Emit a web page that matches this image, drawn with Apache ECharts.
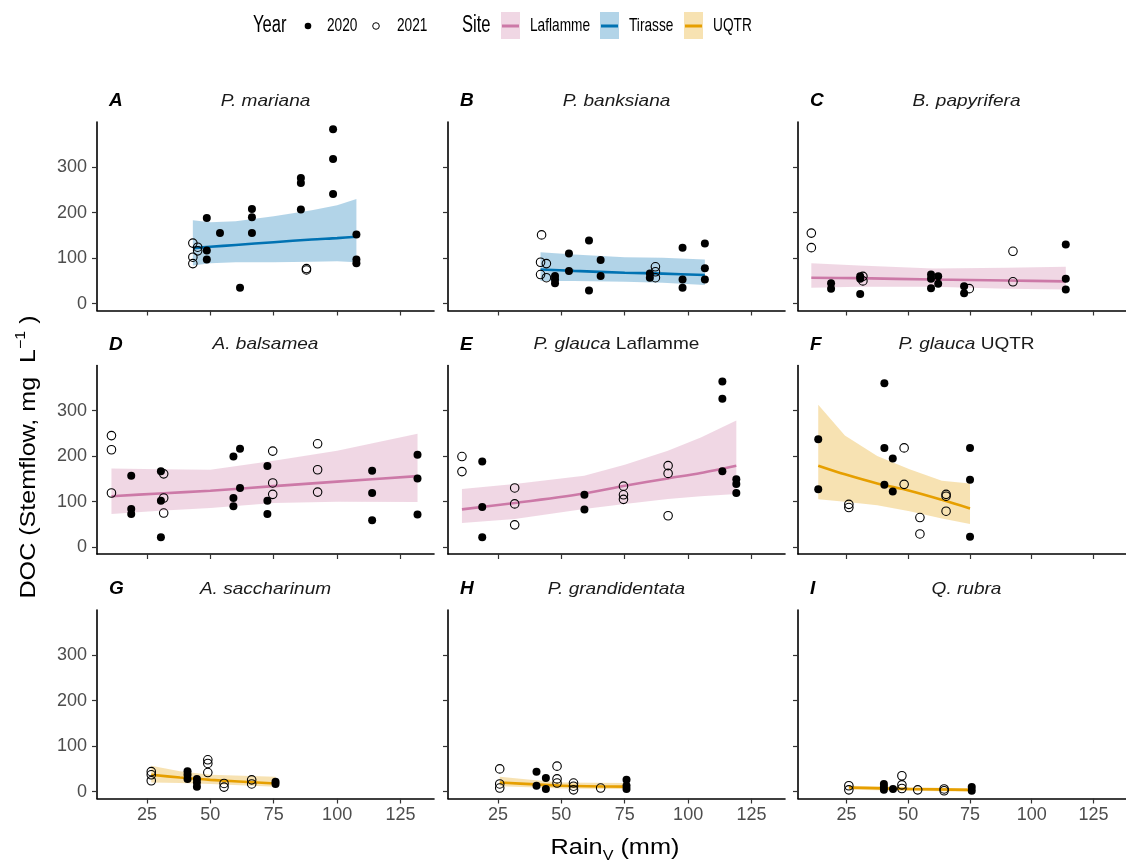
<!DOCTYPE html>
<html>
<head>
<meta charset="utf-8">
<style>
html, body { margin: 0; padding: 0; background: #fff; }
#chart { width: 1126px; height: 861px; }
</style>
<script src="https://cdn.jsdelivr.net/npm/echarts@6/dist/echarts.min.js"></script>
</head>
<body>
<div id="chart"></div>
<script>
// ============================
// Data
// ============================
var xTicks = [25, 50, 75, 100, 125];
var yTicks = [0, 100, 200, 300];

var panelLetters = ["A", "B", "C", "D", "E", "F", "G", "H", "I"];
var panelTitles = ["{i|P. mariana}", "{i|P. banksiana}", "{i|B. papyrifera}",
    "{i|A. balsamea}", "{i|P. glauca} Laflamme", "{i|P. glauca} UQTR",
    "{i|A. saccharinum}", "{i|P. grandidentata}", "{i|Q. rubra}"];
var panelSites = ["Tirasse", "Tirasse", "Laflamme", "Laflamme", "Laflamme", "UQTR", "UQTR", "UQTR", "UQTR"];

var siteNames = ["Laflamme", "Tirasse", "UQTR"];
var siteLine = ["#CC79A7", "#0072B2", "#E69F00"];
var siteBand = ["rgba(204,121,167,0.3)", "rgba(0,114,178,0.3)", "rgba(230,159,0,0.3)"];

// [rain, DOC]
var a2020 = [[48.6,188],[48.6,117],[48.6,97],[53.8,155],[61.7,35],[66.4,208],[66.4,190],[66.4,155],[85.7,276],[85.7,265],[85.7,207],[98.4,383],[98.4,318],[98.4,241],[107.6,152],[107.6,97],[107.6,89]];
var a2021 = [[43.1,133],[43.1,102],[43.1,88],[45,124],[45,116],[87.9,77],[87.9,74]];
var b2020 = [[47.5,61],[47.5,53],[47.5,45],[53,110],[53,72],[60.9,139],[60.9,29],[65.5,96],[65.5,61],[84.9,66],[84.9,57],[97.8,123],[97.8,53],[97.8,35],[106.6,132],[106.6,78],[106.6,53]];
var b2021 = [[42.2,151],[41.8,91],[44.1,88],[41.8,64],[44.1,57],[87.1,81],[87.1,70],[87.1,57]];
var c2020 = [[18.7,45],[18.7,33],[30.5,60],[30.5,55],[30.5,21],[59.2,64],[59.2,55],[59.2,34],[62.1,60],[62.1,44],[72.6,38],[72.6,23],[113.8,130],[113.8,55],[113.8,31]];
var c2021 = [[10.7,155],[10.7,123],[31.6,60],[31.6,50],[74.7,33],[92.4,115],[92.4,48]];
var d2020 = [[18.8,157],[18.8,84],[18.8,73],[30.5,167],[30.5,102],[30.5,22],[59.1,199],[61.7,216],[61.7,130],[59.1,108],[59.1,90],[72.5,178],[72.5,102],[72.5,73],[113.8,168],[113.8,119],[113.8,59],[131.7,203],[131.7,151],[131.7,72]];
var d2021 = [[11,245],[11,214],[11,119],[31.6,161],[31.6,108],[31.6,75],[74.6,211],[74.6,141],[74.6,116],[92.3,227],[92.3,170],[92.3,121]];
var e2020 = [[18.8,188],[18.8,88],[18.8,22],[59.1,115],[59.1,83],[113.5,364],[113.5,326],[113.5,167],[119,149],[119,139],[119,119]];
var e2021 = [[10.8,199],[10.8,166],[31.6,130],[31.6,95],[31.6,49],[74.5,134],[74.5,115],[74.5,105],[92.1,179],[92.1,162],[92.1,69]];
var f2020 = [[13.5,237],[13.5,127],[40.3,360],[40.3,218],[40.3,137],[43.7,195],[43.7,122],[75,218],[75,148],[75,23]];
var f2021 = [[25.9,94],[25.9,87],[48.3,218],[48.3,138],[54.7,65],[54.7,29],[65.3,116],[65.3,112],[65.3,79]];
var g2020 = [[41,45],[41,37],[41,28],[44.7,28],[44.7,20],[44.7,11],[75.7,22],[75.7,17]];
var g2021 = [[26.7,44],[26.7,37],[26.7,24],[49,70],[49,62],[49,42],[55.4,18],[55.4,10],[66.3,26],[66.3,17]];
var h2020 = [[40.2,44],[40.2,13],[43.9,30],[43.9,6],[75.7,26],[75.7,13],[75.7,6]];
var h2021 = [[25.7,50],[25.7,17],[25.7,8],[48.3,56],[48.3,28],[48.3,19],[54.8,19],[54.8,12],[54.8,4],[65.5,8]];
var i2020 = [[40.1,17],[40.1,10],[40.1,4],[43.8,6],[75.7,10],[75.7,2]];
var i2021 = [[25.9,13],[25.9,4],[47.4,35],[47.4,15],[47.4,7],[53.8,4],[64.5,6],[64.5,2]];

// fitted curve: [rain, fit, lower, upper]
var aFit = [[43.1,122,84,183],[50,125,89,179],[60,129,91,181],[75,135,91,192],[90,141,92,205],[100,144,93,216],[107.6,147,91,230]];
var bFit = [[41.8,75,50,113],[55,72,50,108],[75,68,48,102],[90,66,46,101],[106.6,63,41,97]];
var cFit = [[10.7,57,35,89],[30,56,37,84],[60,53,37,77],[90,51,33,79],[113.8,49,31,81]];
var dFit = [[11,112,73,173],[30,118,80,171],[50,124,86,170],[75,134,97,190],[100,144,100,212],[131.7,156,99,249]];
var eFit = [[10.8,83,53,128],[31.6,97,62,139],[59,118,84,157],[75,135,95,181],[92,151,106,212],[105,163,112,241],[119,179,117,278]];
var fFit = [[13.5,179,105,313],[24.3,160,100,245],[37.4,140,92,200],[50.5,124,79,171],[63.6,104,63,146],[75,85,51,140]];
var gFit = [[26.7,37,20,57],[38,31,19,45],[50,26,17,37],[75.7,18,11,33]];
var hFit = [[25.7,20,12,33],[40,16,9,25],[50,13,7,20],[75.7,11,6,19]];
var iFit = [[25.9,9,4,13],[50,6,2,10],[75.7,4,0,7]];

var pts2020 = [a2020, b2020, c2020, d2020, e2020, f2020, g2020, h2020, i2020];
var pts2021 = [a2021, b2021, c2021, d2021, e2021, f2021, g2021, h2021, i2021];
var fits = [aFit, bFit, cFit, dFit, eFit, fFit, gFit, hFit, iFit];

// ============================
// Layout
// ============================
var FONT = "Liberation Sans, Arial, sans-serif";
var colLeft = [97, 448, 798];
var rowTop = [122, 365.5, 610];
var W = 337, H = 188.5;

var chart = echarts.init(document.getElementById("chart"));

function bandRenderer(fit, fill) {
    return function (params, api) {
        if (params.dataIndex !== 0) return;
        var upper = fit.map(function (d) { return api.coord([d[0], d[3]]); });
        var lower = fit.slice().reverse().map(function (d) { return api.coord([d[0], d[2]]); });
        return {
            type: "polygon",
            shape: { points: upper.concat(lower) },
            style: { fill: fill }
        };
    };
}

var grids = [], xAxes = [], yAxes = [], series = [], graphics = [];

for (var p = 0; p < 9; p++) {
    var row = Math.floor(p / 3), col = p % 3;
    var gLeft = colLeft[col], gTop = rowTop[row];
    var s = siteNames.indexOf(panelSites[p]);

    grids.push({ left: gLeft, top: gTop, width: W, height: H });

    xAxes.push({
        type: "value", gridIndex: p, min: 5.3, max: 138.2,
        axisLine: { show: true, onZero: false, lineStyle: { color: "#000", width: 1.6 } },
        axisTick: { show: true, length: 5, customValues: xTicks, lineStyle: { color: "#333", width: 1.2 } },
        axisLabel: { show: row === 2, customValues: xTicks, color: "#4d4d4d", fontSize: 18, fontFamily: FONT, margin: 8 },
        splitLine: { show: false }
    });
    yAxes.push({
        type: "value", gridIndex: p, min: -15, max: 399,
        axisLine: { show: true, onZero: false, lineStyle: { color: "#000", width: 1.6 } },
        axisTick: { show: true, length: 5, customValues: yTicks, lineStyle: { color: "#333", width: 1.2 } },
        axisLabel: { show: col === 0, customValues: yTicks, color: "#4d4d4d", fontSize: 18, fontFamily: FONT, margin: 10 },
        splitLine: { show: false }
    });

    series.push({
        type: "custom", xAxisIndex: p, yAxisIndex: p, silent: true,
        renderItem: bandRenderer(fits[p], siteBand[s]),
        data: fits[p], z: 1
    });
    series.push({
        type: "line", xAxisIndex: p, yAxisIndex: p, silent: true,
        data: fits[p].map(function (d) { return [d[0], d[1]]; }),
        smooth: 0.3, symbol: "none",
        lineStyle: { color: siteLine[s], width: 2.6 }, z: 2
    });
    series.push({
        type: "scatter", xAxisIndex: p, yAxisIndex: p, silent: true,
        data: pts2021[p], symbolSize: 8.5,
        itemStyle: { color: "rgba(0,0,0,0)", borderColor: "#000", borderWidth: 1.1, opacity: 1 }, z: 3
    });
    series.push({
        type: "scatter", xAxisIndex: p, yAxisIndex: p, silent: true,
        data: pts2020[p], symbolSize: 8,
        itemStyle: { color: "#000", opacity: 1 }, z: 4
    });

    // panel letter and title
    graphics.push({
        type: "text", x: gLeft + 12, y: gTop - 21,
        style: { text: panelLetters[p], font: "italic bold 19px " + FONT, fill: "#000", verticalAlign: "middle" }
    });
    graphics.push({
        type: "text", x: gLeft + W / 2, y: gTop - 21, scaleX: 1.12,
        style: {
            text: panelTitles[p], align: "center", verticalAlign: "middle",
            fontSize: 17, fontFamily: FONT, fill: "#1a1a1a",
            rich: { i: { fontStyle: "italic", fontSize: 17, fontFamily: FONT, fill: "#1a1a1a" } }
        }
    });
}

// axis titles
graphics.push({
    type: "text", x: 615, y: 848, scaleX: 1.15,
    style: {
        text: "Rain{sub|V} (mm)", align: "center", verticalAlign: "middle",
        fontSize: 22, fontFamily: FONT, fill: "#000", lineHeight: 30,
        rich: { sub: { fontSize: 14, fontFamily: FONT, fill: "#000", verticalAlign: "bottom", lineHeight: 30 } }
    }
});
graphics.push({
    type: "text", x: 29, y: 457, rotation: Math.PI / 2, scaleX: 1.14,
    style: {
        text: "DOC (Stemflow, mg  L{sup|\u22121} )", align: "center", verticalAlign: "middle",
        fontSize: 22, fontFamily: FONT, fill: "#000", lineHeight: 30,
        rich: { sup: { fontSize: 14, fontFamily: FONT, fill: "#000", verticalAlign: "top", lineHeight: 30 } }
    }
});

// legend (text is condensed in the original)
var LY = 26, SQ = 0.72;
function legendText(x, txt, size) {
    graphics.push({ type: "text", x: x, y: LY, scaleX: SQ, style: { text: txt, fontSize: size, fontFamily: FONT, fill: "#000", verticalAlign: "middle" } });
}
legendText(253, "Year", 23);
graphics.push({ type: "circle", shape: { cx: 308, cy: LY, r: 3.3 }, style: { fill: "#000" } });
legendText(327, "2020", 19);
graphics.push({ type: "circle", shape: { cx: 376, cy: LY, r: 3.3 }, style: { fill: "none", stroke: "#000", lineWidth: 1 } });
legendText(397, "2021", 19);
legendText(462, "Site", 23);
var keyX = [501, 600, 684], keyTextX = [530, 629, 713];
siteNames.forEach(function (name, k) {
    graphics.push({ type: "rect", shape: { x: keyX[k], y: 12, width: 19, height: 27 }, style: { fill: siteBand[k] } });
    graphics.push({ type: "line", shape: { x1: keyX[k] + 1, y1: LY, x2: keyX[k] + 18, y2: LY }, style: { stroke: siteLine[k], lineWidth: 3 } });
    legendText(keyTextX[k], name, 19);
});

chart.setOption({
    animation: false,
    backgroundColor: "#fff",
    grid: grids,
    xAxis: xAxes,
    yAxis: yAxes,
    series: series,
    graphic: graphics
});
</script>
</body>
</html>
